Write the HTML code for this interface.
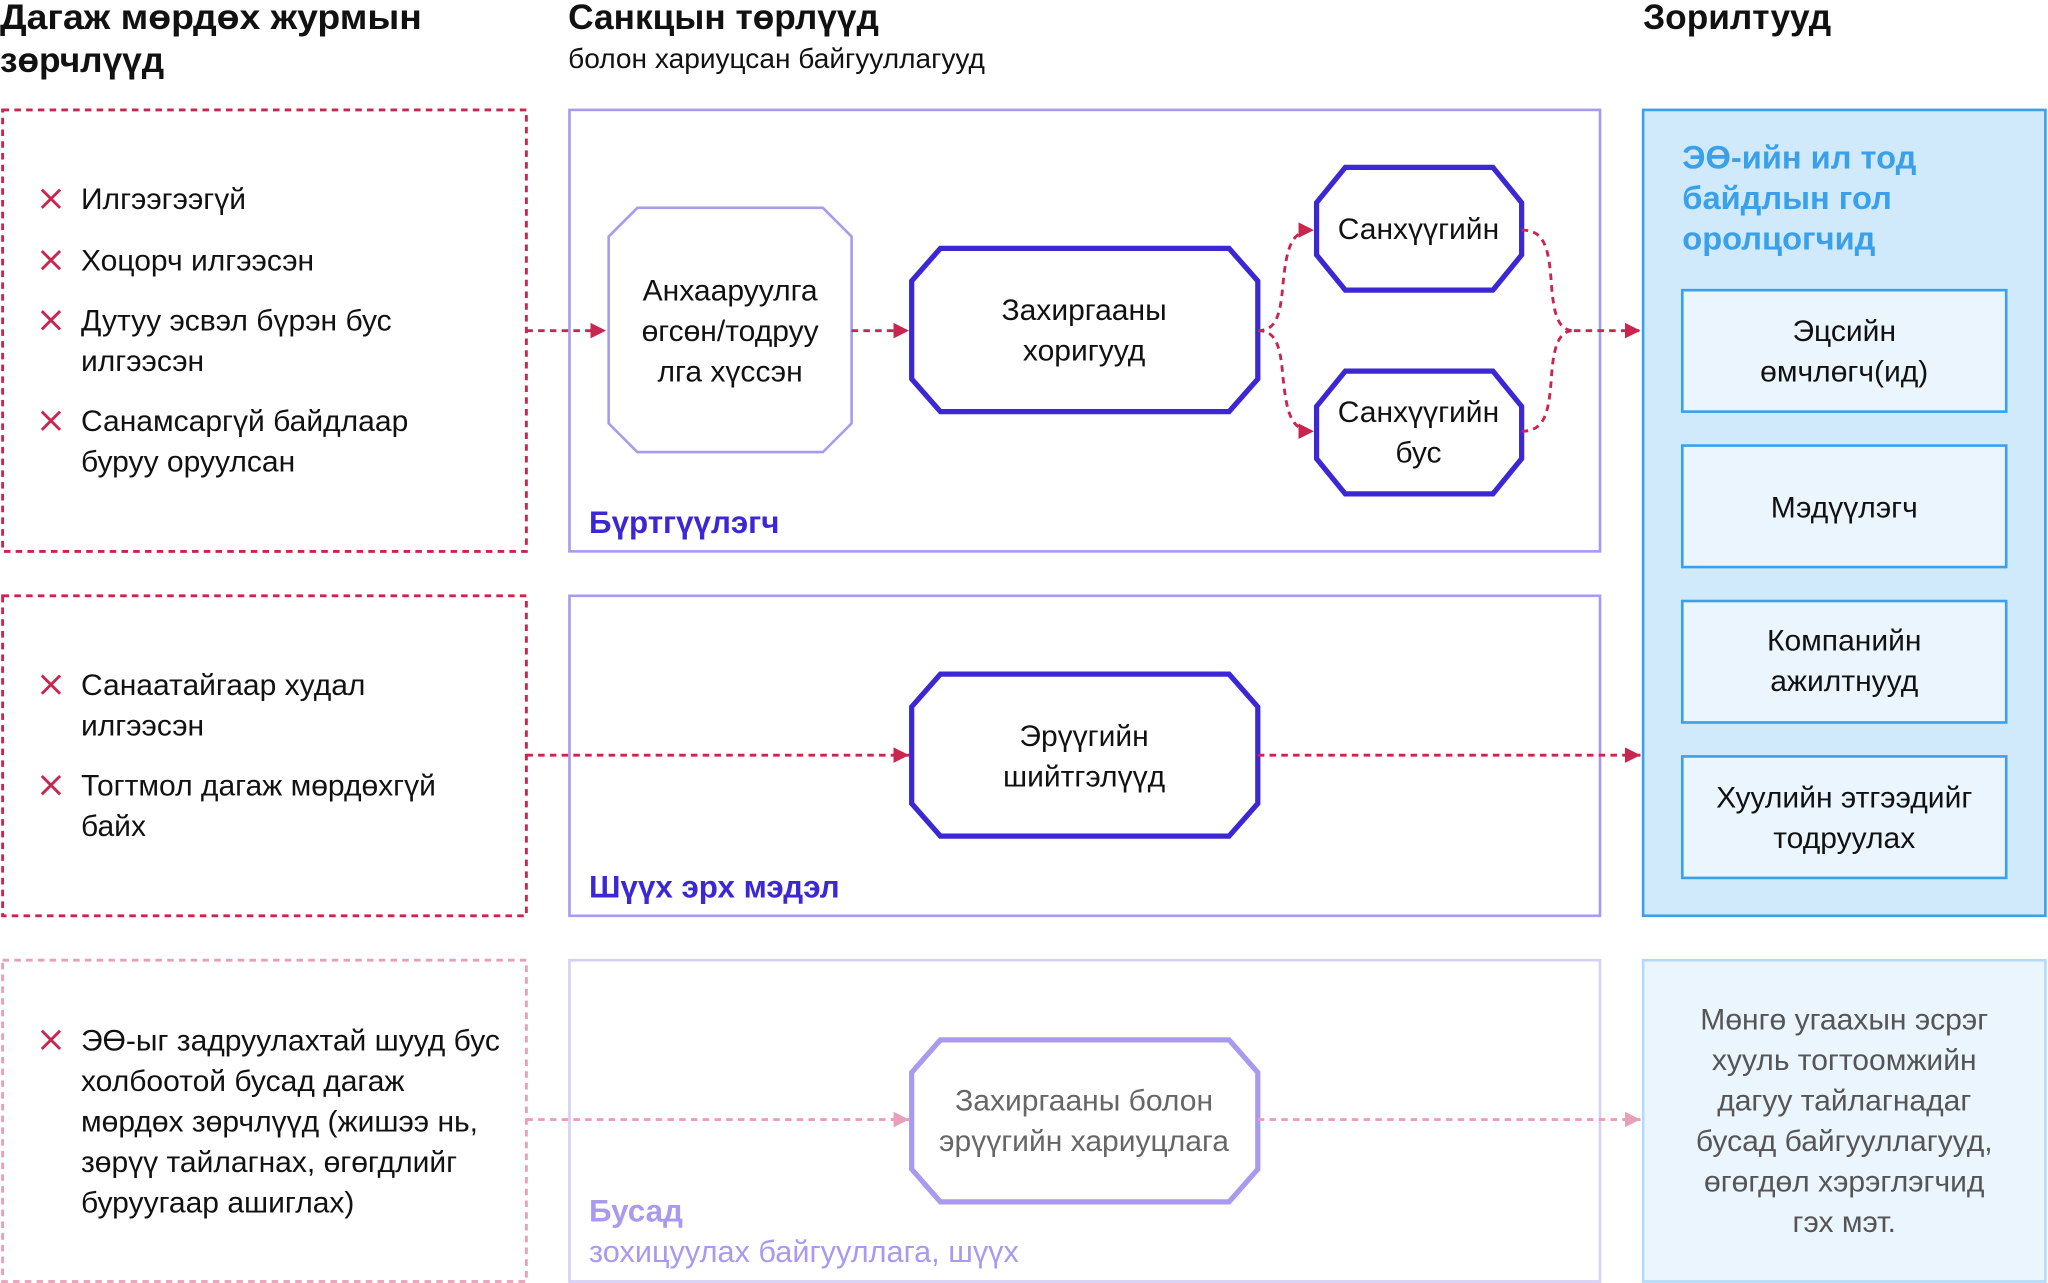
<!DOCTYPE html>
<html><head><meta charset="utf-8"><style>
html,body{margin:0;padding:0;background:#fff;}
svg{display:block;}
text{font-family:"Liberation Sans","DejaVu Sans",sans-serif;}
</style></head><body>
<svg width="2048" height="1283" viewBox="0 0 1568 982" xmlns="http://www.w3.org/2000/svg">
<defs>
<marker id="a" viewBox="0 0 10 10" refX="10" refY="5" markerWidth="12" markerHeight="12" markerUnits="userSpaceOnUse" orient="auto"><path d="M0,0L10,5L0,10z" fill="#c8254f"/></marker>
<marker id="b" viewBox="0 0 10 10" refX="10" refY="5" markerWidth="12" markerHeight="12" markerUnits="userSpaceOnUse" orient="auto"><path d="M0,0L10,5L0,10z" fill="#e8a0b8"/></marker>
</defs>
<g font-weight="bold" font-size="27" fill="#111">
<text x="0" y="22" textLength="323" lengthAdjust="spacingAndGlyphs">Дагаж мөрдөх журмын</text>
<text x="0" y="55">зөрчлүүд</text>
<text x="435" y="22">Санкцын төрлүүд</text>
<text x="1258" y="22">Зорилтууд</text>
</g>
<text x="435" y="52" font-size="21.5" fill="#111">болон хариуцсан байгууллагууд</text>

<g fill="none" stroke-width="2.2" stroke-dasharray="5,4">
<rect x="2" y="84" width="401" height="338" stroke="#c8254f"/>
<rect x="2" y="456" width="401" height="245" stroke="#c8254f"/>
<rect x="2" y="735" width="401" height="246" stroke="#e8a0b8"/>
</g>
<g font-size="23" fill="#111">
<text x="62" y="160">Илгээгээгүй</text>
<text x="62" y="207">Хоцорч илгээсэн</text>
<text x="62" y="253">Дутуу эсвэл бүрэн бус</text>
<text x="62" y="284">илгээсэн</text>
<text x="62" y="330">Санамсаргүй байдлаар</text>
<text x="62" y="361">буруу оруулсан</text>
<text x="62" y="532">Санаатайгаар худал</text>
<text x="62" y="563">илгээсэн</text>
<text x="62" y="609">Тогтмол дагаж мөрдөхгүй</text>
<text x="62" y="640">байх</text>
<text x="62" y="804">ЭӨ-ыг задруулахтай шууд бус</text>
<text x="62" y="835">холбоотой бусад дагаж</text>
<text x="62" y="866">мөрдөх зөрчлүүд (жишээ нь,</text>
<text x="62" y="897">зөрүү тайлагнах, өгөгдлийг</text>
<text x="62" y="928">буруугаар ашиглах)</text>
</g>
<g stroke="#c8254f" stroke-width="2.2">
<path d="M32,145l14,14M46,145l-14,14M32,192l14,14M46,192l-14,14M32,238l14,14M46,238l-14,14M32,315l14,14M46,315l-14,14M32,517l14,14M46,517l-14,14M32,594l14,14M46,594l-14,14M32,789l14,14M46,789l-14,14"/>
</g>

<rect x="436" y="84" width="789" height="338" fill="none" stroke="#a99af0" stroke-width="2"/>
<rect x="436" y="456" width="789" height="245" fill="none" stroke="#a99af0" stroke-width="2"/>
<rect x="436" y="735" width="789" height="246" fill="none" stroke="#d6cff7" stroke-width="2"/>
<g font-weight="bold" font-size="24">
<text x="451" y="408" fill="#3b28d4">Бүртгүүлэгч</text>
<text x="451" y="687" fill="#3b28d4">Шүүх эрх мэдэл</text>
<text x="451" y="935" fill="#a99af0">Бусад</text>
</g>
<text x="451" y="966" font-size="23.5" fill="#a99af0">зохицуулах байгууллага, шүүх</text>

<path d="M488,159H630L652,181V324L630,346H488L466,324V181Z" fill="#fff" stroke="#a99af0" stroke-width="2"/>
<path d="M720,190H941L963,215V290L941,315H720L698,290V215Z" fill="#fff" stroke="#3b28d4" stroke-width="4"/>
<path d="M1030,128H1143L1165,155V195L1143,222H1030L1008,195V155Z" fill="#fff" stroke="#3b28d4" stroke-width="4"/>
<path d="M1030,284H1143L1165,311V351L1143,378H1030L1008,351V311Z" fill="#fff" stroke="#3b28d4" stroke-width="4"/>
<path d="M720,516H941L963,541V615L941,640H720L698,615V541Z" fill="#fff" stroke="#3b28d4" stroke-width="4"/>
<path d="M720,796H941L963,821V895L941,920H720L698,895V821Z" fill="#fff" stroke="#a99af0" stroke-width="4"/>
<g font-size="23" fill="#111" text-anchor="middle">
<text x="559" y="230">Анхааруулга</text>
<text x="559" y="261">өгсөн/тодруу</text>
<text x="559" y="292">лга хүссэн</text>
<text x="830" y="245">Захиргааны</text>
<text x="830" y="276">хоригууд</text>
<text x="1086" y="183">Санхүүгийн</text>
<text x="1086" y="323">Санхүүгийн</text>
<text x="1086" y="354">бус</text>
<text x="830" y="571">Эрүүгийн</text>
<text x="830" y="602">шийтгэлүүд</text>
<text x="830" y="850" fill="#666">Захиргааны болон</text>
<text x="830" y="881" fill="#666">эрүүгийн хариуцлага</text>
</g>

<rect x="1258" y="84" width="308" height="617" fill="#d0e9fb" stroke="#3aa0ea" stroke-width="2"/>
<g font-weight="bold" font-size="25" fill="#3aa0ea">
<text x="1288" y="129">ЭӨ-ийн ил тод</text>
<text x="1288" y="160">байдлын гол</text>
<text x="1288" y="191">оролцогчид</text>
</g>
<g fill="#eaf5fe" stroke="#3aa0ea" stroke-width="2">
<rect x="1288" y="222" width="248" height="93"/>
<rect x="1288" y="341" width="248" height="93"/>
<rect x="1288" y="460" width="248" height="93"/>
<rect x="1288" y="579" width="248" height="93"/>
</g>
<rect x="1258" y="735" width="308" height="246" fill="#eaf5fe" stroke="#b3dbf7" stroke-width="2"/>
<g font-size="23" fill="#111" text-anchor="middle">
<text x="1412" y="261">Эцсийн</text>
<text x="1412" y="292">өмчлөгч(ид)</text>
<text x="1412" y="396">Мэдүүлэгч</text>
<text x="1412" y="498">Компанийн</text>
<text x="1412" y="529">ажилтнууд</text>
<text x="1412" y="618">Хуулийн этгээдийг</text>
<text x="1412" y="649">тодруулах</text>
</g>
<g font-size="23" fill="#555" text-anchor="middle">
<text x="1412" y="788">Мөнгө угаахын эсрэг</text>
<text x="1412" y="819">хууль тогтоомжийн</text>
<text x="1412" y="850">дагуу тайлагнадаг</text>
<text x="1412" y="881">бусад байгууллагууд,</text>
<text x="1412" y="912">өгөгдөл хэрэглэгчид</text>
<text x="1412" y="943">гэх мэт.</text>
</g>

<g fill="none" stroke="#c8254f" stroke-width="2.2" stroke-dasharray="5,4">
<path d="M403,253H464" marker-end="url(#a)"/>
<path d="M652,253H696" marker-end="url(#a)"/>
<path d="M963,253C975,253 980,245 982,220C985,190 988,176 1006,176" marker-end="url(#a)"/>
<path d="M963,253C975,253 980,261 982,286C985,316 988,330 1006,330" marker-end="url(#a)"/>
<path d="M1165,176C1183,176 1186,190 1188,220C1190,245 1195,253 1205,253M1165,330C1183,330 1186,316 1188,286C1190,261 1195,253 1205,253"/>
<path d="M1205,253H1256" marker-end="url(#a)"/>
<path d="M403,578H696" marker-end="url(#a)"/>
<path d="M963,578H1256" marker-end="url(#a)"/>
</g>
<g fill="none" stroke="#e8a0b8" stroke-width="2.2" stroke-dasharray="5,4">
<path d="M403,857H696" marker-end="url(#b)"/>
<path d="M963,857H1256" marker-end="url(#b)"/>
</g>
</svg>
</body></html>
